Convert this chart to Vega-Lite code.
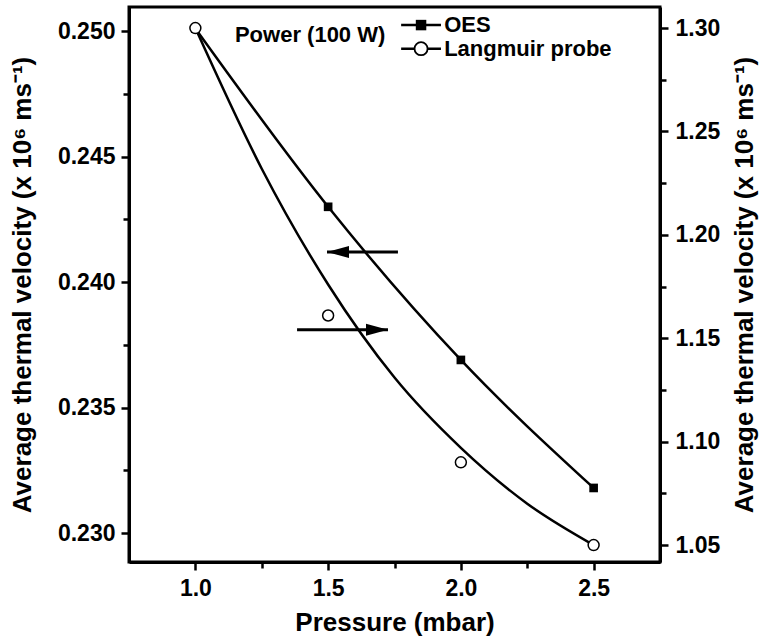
{
  "$schema": "https://vega.github.io/schema/vega-lite/v6.json",
  "width": 531,
  "height": 555,
  "autosize": {"type": "none"},
  "padding": {"left": 129, "top": 7, "right": 103, "bottom": 77},
  "background": "white",
  "config": {
    "view": {"stroke": "black", "strokeWidth": 3},
    "axis": {
      "grid": false,
      "domainColor": "black",
      "domainWidth": 3,
      "tickColor": "black",
      "tickWidth": 2.5,
      "tickSize": 8,
      "labelFont": "Liberation Sans, Arial",
      "labelFontWeight": "bold",
      "labelFontSize": 23,
      "labelColor": "black",
      "titleFont": "Liberation Sans, Arial",
      "titleFontWeight": "bold",
      "titleFontSize": 26,
      "titleColor": "black"
    }
  },
  "datasets": {
    "oes": [
      {"p": 1.0, "v": 0.2501},
      {"p": 1.5, "v": 0.2430},
      {"p": 2.0, "v": 0.2369},
      {"p": 2.5, "v": 0.2318}
    ],
    "lp": [
      {"p": 1.0, "v": 1.300},
      {"p": 1.5, "v": 1.161},
      {"p": 2.0, "v": 1.090},
      {"p": 2.5, "v": 1.050}
    ],
    "lpfit": [
      {"p": 1.0, "v": 1.300},
      {"p": 1.25, "v": 1.232},
      {"p": 1.5, "v": 1.176},
      {"p": 1.75, "v": 1.131},
      {"p": 2.0, "v": 1.097},
      {"p": 2.25, "v": 1.070},
      {"p": 2.5, "v": 1.050}
    ],
    "arrows": [
      {"p": 1.763, "p2": 1.4958, "v": 0.2412, "dir": "left"},
      {"p": 1.383, "p2": 1.7255, "v": 0.2381, "dir": "right"}
    ],
    "legendlines": [
      {"p": 1.775, "p2": 1.925, "pm": 1.850, "v": 0.25024, "s": "OES"},
      {"p": 1.775, "p2": 1.925, "pm": 1.850, "v": 0.24930, "s": "Langmuir probe"}
    ],
    "texts": [
      {"p": 1.149, "v": 0.24985, "t": "Power (100 W)"},
      {"p": 1.937, "v": 0.25024, "t": "OES"},
      {"p": 1.937, "v": 0.24930, "t": "Langmuir probe"}
    ]
  },
  "layer": [
    {
      "layer": [
        {
          "data": {"name": "oes"},
          "mark": {"type": "line", "color": "black", "strokeWidth": 2.5, "interpolate": "monotone"},
          "encoding": {
            "x": {
              "field": "p", "type": "quantitative",
              "scale": {"domain": [0.75, 2.75], "nice": false, "zero": false},
              "axis": {
                "title": "Pressure (mbar)",
                "values": [1.0, 1.25, 1.5, 1.75, 2.0, 2.25, 2.5],
                "labelExpr": "(datum.value * 2) % 1 == 0 ? format(datum.value, '.1f') : ''",
                "tickSize": {"condition": {"test": "(datum.value * 2) % 1 == 0", "value": 8}, "value": 6},
                "labelPadding": 7,
                "titlePadding": 9
              }
            },
            "y": {
              "field": "v", "type": "quantitative",
              "scale": {"domain": [0.22885, 0.25096], "nice": false, "zero": false},
              "axis": {
                "orient": "left",
                "title": "Average thermal velocity (x 10⁶ ms⁻¹)",
                "values": [0.23, 0.2325, 0.235, 0.2375, 0.24, 0.2425, 0.245, 0.2475, 0.25],
                "labelExpr": "abs(datum.value * 200 - round(datum.value * 200)) < 0.01 ? format(datum.value, '.3f') : ''",
                "tickSize": {"condition": {"test": "abs(datum.value * 200 - round(datum.value * 200)) < 0.01", "value": 8}, "value": 6},
                "labelPadding": 6,
                "titlePadding": 22
              }
            }
          }
        },
        {
          "data": {"name": "oes"},
          "mark": {"type": "point", "shape": "square", "filled": true, "color": "black", "size": 75, "opacity": 1},
          "encoding": {
            "x": {"field": "p", "type": "quantitative"},
            "y": {"field": "v", "type": "quantitative"}
          }
        },
        {
          "data": {"name": "arrows"},
          "mark": {"type": "rule", "color": "black", "strokeWidth": 3},
          "encoding": {
            "x": {"field": "p", "type": "quantitative"},
            "x2": {"field": "p2"},
            "y": {"field": "v", "type": "quantitative"}
          }
        },
        {
          "data": {"name": "arrows"},
          "mark": {"type": "point", "filled": true, "color": "black", "size": 484, "opacity": 1},
          "encoding": {
            "x": {"field": "p2", "type": "quantitative"},
            "y": {"field": "v", "type": "quantitative"},
            "shape": {
              "field": "dir", "type": "nominal",
              "scale": {"domain": ["left", "right"], "range": ["M0,0L2,-0.55L2,0.55Z", "M0,0L-2,-0.55L-2,0.55Z"]},
              "legend": null
            }
          }
        },
        {
          "data": {"name": "legendlines"},
          "mark": {"type": "rule", "color": "black", "strokeWidth": 2.5},
          "encoding": {
            "x": {"field": "p", "type": "quantitative"},
            "x2": {"field": "p2"},
            "y": {"field": "v", "type": "quantitative"}
          }
        },
        {
          "data": {"name": "legendlines"},
          "transform": [{"filter": "datum.s == 'OES'"}],
          "mark": {"type": "point", "shape": "square", "filled": true, "color": "black", "size": 110, "opacity": 1},
          "encoding": {
            "x": {"field": "pm", "type": "quantitative"},
            "y": {"field": "v", "type": "quantitative"}
          }
        },
        {
          "data": {"name": "legendlines"},
          "transform": [{"filter": "datum.s == 'Langmuir probe'"}],
          "mark": {"type": "point", "shape": "circle", "filled": true, "fill": "white", "stroke": "black", "strokeWidth": 1.8, "size": 170, "opacity": 1},
          "encoding": {
            "x": {"field": "pm", "type": "quantitative"},
            "y": {"field": "v", "type": "quantitative"}
          }
        },
        {
          "data": {"name": "texts"},
          "mark": {"type": "text", "align": "left", "baseline": "middle", "font": "Liberation Sans, Arial", "fontWeight": "bold", "fontSize": 22, "color": "black"},
          "encoding": {
            "x": {"field": "p", "type": "quantitative"},
            "y": {"field": "v", "type": "quantitative"},
            "text": {"field": "t"}
          }
        }
      ]
    },
    {
      "layer": [
        {
          "data": {"name": "lpfit"},
          "mark": {"type": "line", "color": "black", "strokeWidth": 2.5, "interpolate": "monotone"},
          "encoding": {
            "x": {"field": "p", "type": "quantitative", "title": "Pressure (mbar)"},
            "y": {
              "field": "v", "type": "quantitative",
              "scale": {"domain": [1.0418, 1.3102], "nice": false, "zero": false},
              "axis": {
                "orient": "right",
                "title": "Average thermal velocity (x 10⁶ ms⁻¹)",
                "titleAngle": 270,
                "titleBaseline": "top",
                "values": [1.05, 1.075, 1.1, 1.125, 1.15, 1.175, 1.2, 1.225, 1.25, 1.275, 1.3],
                "labelExpr": "abs(datum.value * 20 - round(datum.value * 20)) < 0.01 ? format(datum.value, '.2f') : ''",
                "tickSize": {"condition": {"test": "abs(datum.value * 20 - round(datum.value * 20)) < 0.01", "value": 8}, "value": 6},
                "labelPadding": 7,
                "titlePadding": 12
              }
            }
          }
        },
        {
          "data": {"name": "lp"},
          "mark": {"type": "point", "shape": "circle", "filled": true, "fill": "white", "stroke": "black", "strokeWidth": 1.5, "size": 120, "opacity": 1},
          "encoding": {
            "x": {"field": "p", "type": "quantitative"},
            "y": {"field": "v", "type": "quantitative"}
          }
        }
      ]
    }
  ],
  "resolve": {"scale": {"y": "independent"}}
}
